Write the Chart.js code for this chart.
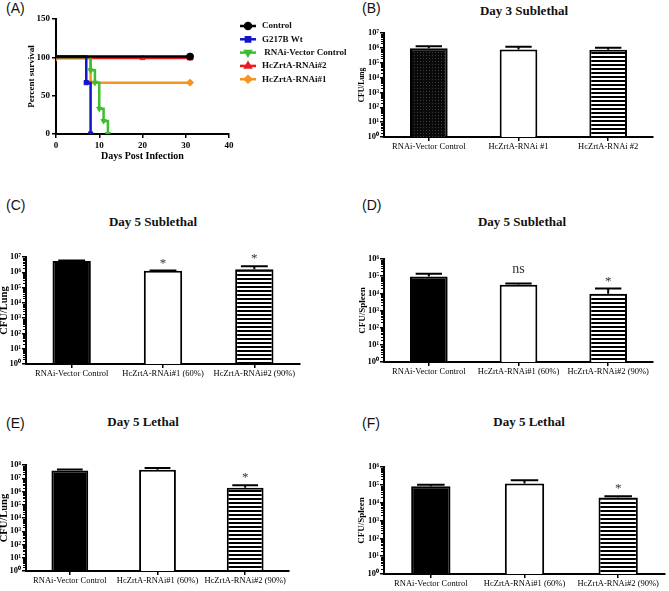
<!DOCTYPE html>
<html>
<head>
<meta charset="utf-8">
<script src="https://cdn.jsdelivr.net/npm/chart.js@4.4.1/dist/chart.umd.min.js"></script>
<style>
  body { margin: 0; background: #fff; width: 669px; height: 591px; position: relative; overflow: hidden; }
  canvas { position: absolute; }
  .tag { position: absolute; font-family: "Liberation Sans", Arial, sans-serif; font-size: 14px; color: #111; }
  .ttl { position: absolute; font-family: "Liberation Serif", "Times New Roman", serif; font-weight: bold; font-size: 13px; color: #111; transform: translateX(-50%); white-space: nowrap; }
</style>
</head>
<body>
<div class="tag" style="left:6px;top:0px">(A)</div>
<div class="tag" style="left:362px;top:0px">(B)</div>
<div class="tag" style="left:6px;top:197px">(C)</div>
<div class="tag" style="left:362px;top:197px">(D)</div>
<div class="tag" style="left:6px;top:415px">(E)</div>
<div class="tag" style="left:362px;top:415px">(F)</div>
<div class="ttl" style="left:524px;top:3px">Day 3 Sublethal</div>
<div class="ttl" style="left:153px;top:214px">Day 5 Sublethal</div>
<div class="ttl" style="left:522px;top:214px">Day 5 Sublethal</div>
<div class="ttl" style="left:143px;top:414px">Day 5 Lethal</div>
<div class="ttl" style="left:529px;top:414px">Day 5 Lethal</div>

<canvas id="cA" width="360" height="170" style="left:0;top:0"></canvas>
<canvas id="cB" width="334" height="160" style="left:335px;top:0"></canvas>
<canvas id="cC" width="335" height="190" style="left:0;top:190px"></canvas>
<canvas id="cD" width="334" height="190" style="left:335px;top:190px"></canvas>
<canvas id="cE" width="335" height="201" style="left:0;top:390px"></canvas>
<canvas id="cF" width="334" height="201" style="left:335px;top:390px"></canvas>

<script>
// --- Panel A: survival curves (days, percent survival) ---
const survivalLabels = ['Control', 'G217B Wt', ' RNAi-Vector Control', 'HcZrtA-RNAi#2', 'HcZrtA-RNAi#1'];
const controlDays = [0, 31];
const controlSurv = [101, 101];
const wtDays = [0, 7, 8];
const wtSurv = [101, 67, 0];
const vectorDays = [0, 8, 9, 10, 11, 12];
const vectorSurv = [100, 83, 67, 33, 17, 0];
const rnai2Days = [0, 20, 31];
const rnai2Surv = [99, 99, 99];
const rnai1Days = [0, 8, 31];
const rnai1Surv = [99, 67, 67];

// --- Bar panels: CFU counts (mean, upper error) ---
const labelsB = ['RNAi-Vector Control', 'HcZrtA-RNAi #1', 'HcZrtA-RNAi #2'];
const labelsCF = ['RNAi-Vector Control', 'HcZrtA-RNAi#1 (60%)', 'HcZrtA-RNAi#2 (90%)'];

const valuesB = [9.3e5, 7.9e5, 7.5e5];
const errorsB = [1.3e6, 1.2e6, 1.0e6];
const sigB = ['', '', ''];

const valuesC = [5.4e6, 1.26e6, 1.6e6];
const errorsC = [6.0e6, 1.3e6, 2.5e6];
const sigC = ['', '*', '*'];

const valuesD = [9.5e4, 3.2e4, 9.3e3];
const errorsD = [1.4e5, 3.7e4, 1.9e4];
const sigD = ['', 'ns', '*'];

const valuesE = [3.8e7, 4.4e7, 1.9e6];
const errorsE = [4.5e7, 5.9e7, 2.9e6];
const sigE = ['', '', '*'];

const valuesF = [8.3e4, 1.2e5, 1.95e4];
const errorsF = [1.0e5, 1.8e5, 2.3e4];
const sigF = ['', '', '*'];

const ticks7 = [1, 1e1, 1e2, 1e3, 1e4, 1e5, 1e6, 1e7];
const ticks6 = [1, 1e1, 1e2, 1e3, 1e4, 1e5, 1e6];
const ticks8 = [1, 1e1, 1e2, 1e3, 1e4, 1e5, 1e6, 1e7, 1e8];

const SERIF = '"Liberation Serif", "Times New Roman", serif';
const SUP = ['\u2070', '\u00b9', '\u00b2', '\u00b3', '\u2074', '\u2075', '\u2076', '\u2077', '\u2078'];

function toPoints(days, surv) {
    return days.map((d, i) => ({ x: d, y: surv[i] }));
}

// Legend drawn in the canvas, GraphPad style (line + marker)
const kmLegend = {
    id: 'kmLegend',
    afterDraw(chart) {
        const ctx = chart.ctx;
        ctx.save();
        chart.data.datasets.forEach((ds, i) => {
            const y = 26 + i * 13.3;
            ctx.strokeStyle = ds.borderColor;
            ctx.lineWidth = 2.5;
            ctx.beginPath();
            ctx.moveTo(240, y);
            ctx.lineTo(256, y);
            ctx.stroke();
            Chart.helpers.drawPoint(ctx, {
                pointStyle: ds.pointStyle, radius: 3, rotation: ds.pointRotation || 0, borderWidth: 1
            }, 248, y);
            ctx.fillStyle = ds.borderColor;
            ctx.fill();
            ctx.fillStyle = '#111';
            ctx.font = 'bold 9px ' + SERIF;
            ctx.textBaseline = 'middle';
            ctx.fillText(ds.label, 262, y);
        });
        ctx.restore();
    }
};

function kmSet(label, days, surv, color, style, radii, rot) {
    return {
        label: label,
        data: toPoints(days, surv),
        borderColor: color,
        backgroundColor: color,
        borderWidth: 2.5,
        stepped: 'before',
        pointStyle: style,
        pointRotation: rot || 0,
        pointRadius: radii,
        pointBorderWidth: 1,
        fill: false
    };
}

new Chart(document.getElementById('cA'), {
    type: 'line',
    data: {
        datasets: [
            kmSet(survivalLabels[0], controlDays, controlSurv, '#000000', 'circle', [0, 3.5]),
            kmSet(survivalLabels[1], wtDays, wtSurv, '#1414c8', 'rect', [0, 3, 3]),
            kmSet(survivalLabels[2], vectorDays, vectorSurv, '#3cbf2c', 'triangle', [0, 3, 3, 3, 3, 3], 180),
            kmSet(survivalLabels[3], rnai2Days, rnai2Surv, '#ea1c24', 'triangle', [0, 3, 3.5]),
            kmSet(survivalLabels[4], rnai1Days, rnai1Surv, '#f7941d', 'rectRot', [3, 3, 3.5])
        ]
    },
    options: {
        responsive: false,
        animation: false,
        layout: { autoPadding: false, padding: { top: 19, right: 131, left: 0, bottom: 0 } },
        plugins: { legend: { display: false }, tooltip: { enabled: false } },
        scales: {
            x: {
                type: 'linear', min: 0, max: 40,
                ticks: { stepSize: 10, color: '#000', padding: 2, font: { family: SERIF, weight: 'bold', size: 9 } },
                grid: { drawOnChartArea: false, tickLength: 4, color: '#000', lineWidth: 1.5 },
                border: { color: '#000', width: 2 },
                title: { display: true, text: 'Days Post Infection', color: '#000', padding: { top: 0, bottom: 8 },
                         font: { family: SERIF, weight: 'bold', size: 10 } },
                afterFit: s => { s.height = 36; }
            },
            y: {
                min: 0, max: 150,
                ticks: { stepSize: 50, color: '#000', padding: 2, font: { family: SERIF, weight: 'bold', size: 9 } },
                grid: { drawOnChartArea: false, tickLength: 4, color: '#000', lineWidth: 1.5 },
                border: { color: '#000', width: 2 },
                title: { display: true, text: 'Percent survival', color: '#000', padding: { top: 26, bottom: 0 },
                         font: { family: SERIF, weight: 'bold', size: 9 } },
                afterFit: s => { s.width = 56; }
            }
        }
    },
    plugins: [kmLegend]
});

// Upper error bars, significance marks and small log minor ticks
const errorBars = {
    id: 'errorBars',
    afterDatasetsDraw(chart, args, opts) {
        const ctx = chart.ctx;
        const y = chart.scales.y;
        const meta = chart.getDatasetMeta(0);
        ctx.save();
        ctx.strokeStyle = '#000';
        ctx.lineWidth = 2;
        meta.data.forEach((bar, i) => {
            const top = y.getPixelForValue(opts.high[i]);
            const half = bar.width * 0.35;
            ctx.beginPath();
            ctx.moveTo(bar.x, bar.y);
            ctx.lineTo(bar.x, top);
            ctx.moveTo(bar.x - half, top);
            ctx.lineTo(bar.x + half, top);
            ctx.stroke();
            const mark = opts.sig[i];
            if (mark) {
                ctx.fillStyle = '#333';
                ctx.textAlign = 'center';
                ctx.textBaseline = 'alphabetic';
                ctx.font = (mark === '*' ? '13px ' : '14px ') + SERIF;
                ctx.fillText(mark, bar.x, top - (mark === '*' ? 4 : 11));
            }
        });

        // minor ticks between decades
        const left = chart.chartArea.left;
        ctx.lineWidth = 1;
        ctx.beginPath();
        for (let d = y.min; d < y.max; d *= 10) {
            for (let k = 2; k <= 9; k++) {
                const py = Math.round(y.getPixelForValue(k * d)) + 0.5;
                ctx.moveTo(left - 1, py);
                ctx.lineTo(left - 3, py);
            }
        }
        ctx.stroke();
        ctx.restore();
    }
};

function stripes(canvas) {
    const p = document.createElement('canvas');
    p.width = 4; p.height = 4;
    const g = p.getContext('2d');
    g.fillStyle = '#fff';
    g.fillRect(0, 0, 4, 4);
    g.fillStyle = '#000';
    g.fillRect(0, 0, 4, 2);
    return canvas.getContext('2d').createPattern(p, 'repeat');
}

function dots(canvas) {
    const p = document.createElement('canvas');
    p.width = 3; p.height = 3;
    const g = p.getContext('2d');
    g.fillStyle = '#0a0a0a';
    g.fillRect(0, 0, 3, 3);
    g.fillStyle = '#3a3a3a';
    g.fillRect(1, 1, 1, 1);
    return canvas.getContext('2d').createPattern(p, 'repeat');
}

function barPanel(id, labels, values, errors, sig, yTicks, yTitle, titleSize, titlePad, box, dotted) {
    const canvas = document.getElementById(id);
    const h = canvas.height;
    return new Chart(canvas, {
        type: 'bar',
        data: {
            labels: labels,
            datasets: [{
                data: values,
                backgroundColor: [dotted ? dots(canvas) : '#000', '#fff', stripes(canvas)],
                borderColor: '#000',
                borderWidth: 2,
                barPercentage: 0.42,
                categoryPercentage: 1
            }]
        },
        options: {
            responsive: false,
            animation: false,
            layout: { autoPadding: false, padding: { top: box.top, right: box.right, left: 0, bottom: 0 } },
            plugins: {
                legend: { display: false },
                tooltip: { enabled: false },
                errorBars: { high: errors, sig: sig }
            },
            scales: {
                x: {
                    ticks: { color: '#000', padding: 1, maxRotation: 0, autoSkip: false,
                             font: { family: SERIF, size: 8.5 } },
                    grid: { offset: false, drawOnChartArea: false, tickLength: 4, color: '#000', lineWidth: 1.5 },
                    border: { color: '#000', width: 2 },
                    afterFit: s => { s.height = h - box.bottom; }
                },
                y: {
                    type: 'logarithmic',
                    min: yTicks[0],
                    max: yTicks[yTicks.length - 1],
                    afterBuildTicks: s => { s.ticks = yTicks.map(v => ({ value: v })); },
                    ticks: {
                        color: '#000', padding: 1, autoSkip: false,
                        font: { family: SERIF, weight: 'bold', size: 8.5 },
                        callback: v => '10' + SUP[Math.round(Math.log10(v))]
                    },
                    grid: { drawOnChartArea: false, tickLength: 4, color: '#000', lineWidth: 1.5 },
                    border: { color: '#000', width: 2 },
                    title: { display: true, text: yTitle, color: '#000', padding: { top: titlePad, bottom: 0 },
                             font: { family: SERIF, weight: 'bold', size: titleSize } },
                    afterFit: s => { s.width = box.left; }
                }
            }
        },
        plugins: [errorBars]
    });
}

barPanel('cB', labelsB, valuesB, errorsB, sigB, ticks7, 'CFU/Lung', 7.5, 23, { left: 49, right: 16, top: 33, bottom: 137 }, true);
barPanel('cC', labelsCF, valuesC, errorsC, sigC, ticks7, 'CFU/Lung', 10.5, -2, { left: 26, right: 35, top: 67, bottom: 174 });
barPanel('cD', labelsCF, valuesD, errorsD, sigD, ticks6, 'CFU/Spleen', 9, 22, { left: 49, right: 16, top: 69, bottom: 172 });
barPanel('cE', labelsCF, valuesE, errorsE, sigE, ticks8, 'CFU/Lung', 10.5, -2, { left: 26, right: 46, top: 75, bottom: 181 });
barPanel('cF', labelsCF, valuesF, errorsF, sigF, ticks6, 'CFU/Spleen', 9, 21, { left: 49, right: 4, top: 77, bottom: 184 });
</script>
</body>
</html>
